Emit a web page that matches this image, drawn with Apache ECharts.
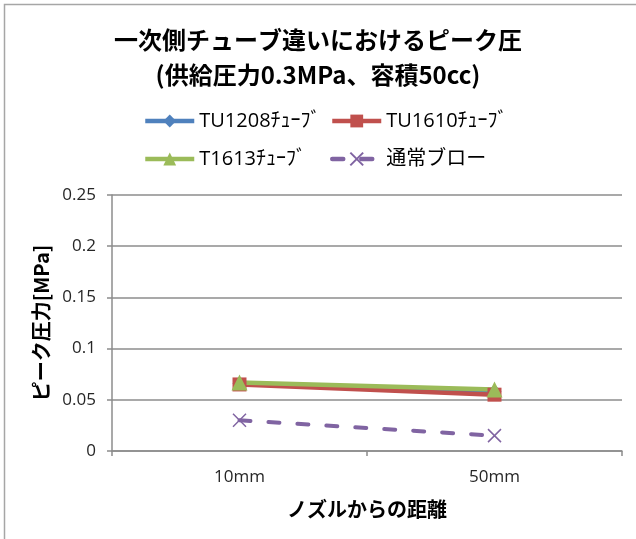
<!DOCTYPE html>
<html>
<head>
<meta charset="utf-8">
<script src="https://cdn.jsdelivr.net/npm/echarts@6/dist/echarts.min.js"></script>
<style>
  html, body { margin: 0; padding: 0; background: #fff; }
  #chart { width: 636px; height: 539px; }
</style>
</head>
<body>
<div id="chart"></div>
<script>
// Peak pressure by primary-side tube, supply 0.3 MPa, volume 50 cc
const categories = ['10mm', '50mm'];
const seriesNames = ['TU1208ﾁｭｰﾌﾞ', 'TU1610ﾁｭｰﾌﾞ', 'T1613ﾁｭｰﾌﾞ', '通常ブロー'];
const tu1208 = [0.066, 0.058];
const tu1610 = [0.065, 0.055];
const t1613 = [0.067, 0.060];
const normalBlow = [0.030, 0.015];
const yTickLabels = ['0', '0.05', '0.1', '0.15', '0.2', '0.25'];

const FONT = "'Open Sans', 'Noto Sans CJK JP', sans-serif";
const CJK_BOLD = "'Noto Sans CJK JP', sans-serif";
const COLORS = ['#4F81BD', '#C0504D', '#9BBB59', '#8064A2'];
const CROSS = 'path://M0,0L10,10M0,10L10,0';

const chart = echarts.init(document.getElementById('chart'), null, { renderer: 'canvas' });

function legendAt(name, left, top) {
  return {
    data: [name],
    left: left,
    top: top,
    padding: 0,
    itemWidth: 49,
    itemHeight: 16,
    itemGap: 0,
    selectedMode: false,
    lineStyle: { width: 4.5 },
    textStyle: { fontFamily: FONT, fontSize: 20, color: '#000', lineHeight: 22 }
  };
}

const option = {
  backgroundColor: '#fff',
  animation: false,
  title: {
    text: '一次側チューブ違いにおけるピーク圧\n(供給圧力0.3MPa、容積50cc)',
    left: 'center',
    top: 17,
    textStyle: {
      fontFamily: CJK_BOLD,
      fontWeight: 'bold',
      fontSize: 24,
      lineHeight: 35,
      color: '#000'
    }
  },
  legend: [
    legendAt(seriesNames[0], 143, 110),
    legendAt(seriesNames[1], 330, 110),
    legendAt(seriesNames[2], 143, 148),
    legendAt(seriesNames[3], 330, 148)
  ],
  graphic: [{
    type: 'rect',
    shape: { x: 4.5, y: 4.5, width: 700, height: 600 },
    style: { fill: 'none', stroke: '#A6A6A6', lineWidth: 1.5 },
    silent: true
  }],
  grid: { left: 112, right: 14, top: 195, bottom: 88, containLabel: false },
  xAxis: {
    type: 'category',
    data: categories,
    boundaryGap: true,
    axisLine: { lineStyle: { color: '#8C8C8C', width: 1.5 } },
    axisTick: { show: true, length: 5, alignWithLabel: false, lineStyle: { color: '#8C8C8C', width: 1.5 } },
    axisLabel: { fontFamily: FONT, fontSize: 17, color: '#262626', margin: 18 },
    name: 'ノズルからの距離',
    nameLocation: 'middle',
    nameGap: 48,
    nameTextStyle: { fontFamily: CJK_BOLD, fontWeight: 'bold', fontSize: 20, color: '#000' }
  },
  yAxis: {
    type: 'value',
    min: 0,
    max: 0.25,
    interval: 0.05,
    axisLine: { show: true, lineStyle: { color: '#8C8C8C', width: 1.5 } },
    axisTick: { show: true, length: 5, lineStyle: { color: '#8C8C8C', width: 1.5 } },
    splitLine: { show: true, lineStyle: { color: '#8C8C8C', width: 1.5 } },
    axisLabel: {
      fontFamily: FONT,
      fontSize: 17,
      color: '#262626',
      margin: 16,
      formatter: (v, i) => yTickLabels[i]
    },
    name: 'ピーク圧力[MPa]',
    nameLocation: 'middle',
    nameGap: 56,
    nameRotate: 90,
    nameTextStyle: { fontFamily: CJK_BOLD, fontWeight: 'bold', fontSize: 20, color: '#000' }
  },
  series: [
    {
      name: seriesNames[0], type: 'line', data: tu1208,
      symbol: 'diamond', symbolSize: 14,
      lineStyle: { color: COLORS[0], width: 4.5 },
      itemStyle: { color: COLORS[0] }
    },
    {
      name: seriesNames[1], type: 'line', data: tu1610,
      symbol: 'rect', symbolSize: 14,
      lineStyle: { color: COLORS[1], width: 4.5 },
      itemStyle: { color: COLORS[1] }
    },
    {
      name: seriesNames[2], type: 'line', data: t1613,
      symbol: 'triangle', symbolSize: 16,
      lineStyle: { color: COLORS[2], width: 4.5 },
      itemStyle: { color: COLORS[2] }
    },
    {
      name: seriesNames[3], type: 'line', data: normalBlow,
      symbol: CROSS, symbolSize: 13,
      lineStyle: { color: COLORS[3], width: 4, type: [11, 18], cap: 'round' },
      itemStyle: { color: 'rgba(0,0,0,0)', borderColor: COLORS[3], borderWidth: 1.5 }
    }
  ]
};

chart.setOption(option);
</script>
</body>
</html>
